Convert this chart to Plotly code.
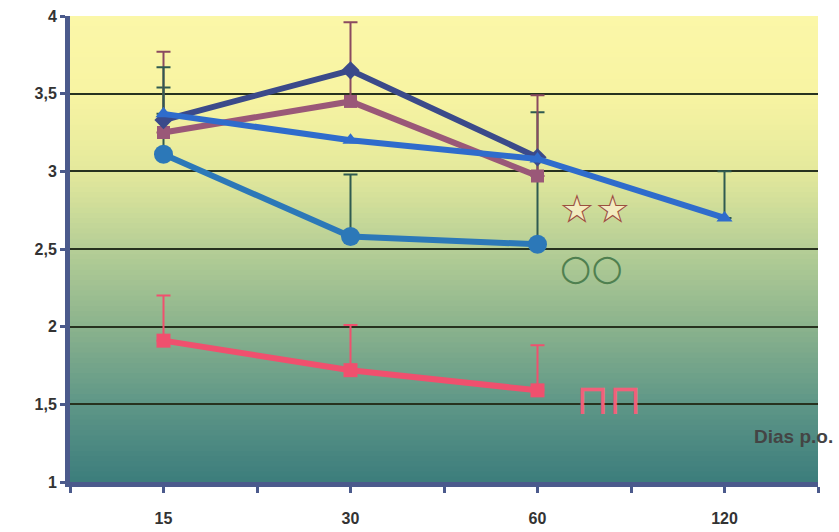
import plotly.graph_objects as go

# ---- data ----
categories = ["15", "30", "60", "120"]
x_pos = [0, 1, 2, 3]

navy_y = [3.33, 3.65, 3.09]
mauve_y = [3.25, 3.45, 2.97]
mauve_err = [0.52, 0.51, 0.52]
tri_y = [3.37, 3.20, 3.08, 2.70]
tri_err = [0.30, 0.0, 0.0, 0.30]
circ_y = [3.11, 2.58, 2.53]
circ_err = [0.43, 0.40, 0.85]
pink_y = [1.91, 1.72, 1.59]
pink_err = [0.29, 0.29, 0.29]

y_ticks = [1, 1.5, 2, 2.5, 3, 3.5, 4]
y_ticktext = ["1", "1,5", "2", "2,5", "3", "3,5", "4"]
x_tickvals = [-0.5, 0, 0.5, 1, 1.5, 2, 2.5, 3, 3.5]
x_ticktext = ["", "15", "", "30", "", "60", "", "120", ""]

fig = go.Figure()

# background gradient strips
stops = [(1.0, (0x3c, 0x7d, 0x7c)), (1.5, (0x5e, 0x96, 0x87)), (2.0, (0x8b, 0xb3, 0x8d)),
         (2.5, (0xb5, 0xce, 0x96)), (3.0, (0xe4, 0xe9, 0x9c)), (3.5, (0xf8, 0xf4, 0xa2)),
         (4.0, (0xfb, 0xf7, 0xa8))]

def col_at(v):
    for (a, ca), (b, cb) in zip(stops[:-1], stops[1:]):
        if a <= v <= b:
            t = (v - a) / (b - a)
            return "rgb(%d,%d,%d)" % tuple(int(round(ca[i] + (cb[i] - ca[i]) * t)) for i in range(3))
    return "rgb(251,247,168)"

n = 90
shapes = []
for i in range(n):
    y0 = 1 + 3 * i / n
    y1 = min(4.0, 1 + 3 * (i + 1) / n + 0.02)
    shapes.append(dict(type="rect", xref="paper", yref="y", x0=0, x1=1, y0=y0, y1=y1,
                       fillcolor=col_at(1 + 3 * (i + 0.5) / n), line=dict(width=0), layer="below"))

err_dark = "#2f5a50"

fig.add_trace(go.Scatter(x=x_pos[:3], y=circ_y, mode="lines+markers",
                         line=dict(color="#2c78b8", width=6),
                         marker=dict(symbol="circle", size=19, color="#2c78b8"),
                         error_y=dict(type="data", array=circ_err, arrayminus=[0, 0, 0], symmetric=False,
                                      color=err_dark, thickness=2, width=7)))
fig.add_trace(go.Scatter(x=x_pos[:3], y=mauve_y, mode="lines+markers",
                         line=dict(color="#9a5878", width=6),
                         marker=dict(symbol="square", size=13, color="#9a5878"),
                         error_y=dict(type="data", array=mauve_err, arrayminus=[0, 0, 0], symmetric=False,
                                      color="#8a4a60", thickness=2, width=7)))
fig.add_trace(go.Scatter(x=x_pos[:3], y=navy_y, mode="lines+markers",
                         line=dict(color="#3b4a8a", width=6),
                         marker=dict(symbol="diamond", size=14, color="#3b4a8a")))
fig.add_trace(go.Scatter(x=x_pos, y=tri_y, mode="lines+markers",
                         line=dict(color="#2f6ccc", width=6),
                         marker=dict(symbol="triangle-up", size=14, color="#2f6ccc"),
                         error_y=dict(type="data", array=tri_err, arrayminus=[0, 0, 0, 0], symmetric=False,
                                      color=err_dark, thickness=2, width=7)))
fig.add_trace(go.Scatter(x=x_pos[:3], y=pink_y, mode="lines+markers",
                         line=dict(color="#f0506e", width=6),
                         marker=dict(symbol="square", size=14, color="#f0506e"),
                         error_y=dict(type="data", array=pink_err, arrayminus=[0, 0, 0], symmetric=False,
                                      color="#f0506e", thickness=2, width=7)))

annotations = [
    dict(x=2.31, y=2.76, xref="x", yref="y", text="★★", showarrow=False,
         font=dict(size=40, color="#f3ecc0", family="DejaVu Sans")),
    dict(x=2.31, y=2.76, xref="x", yref="y", text="☆☆", showarrow=False,
         font=dict(size=40, color="#9a5040", family="DejaVu Sans")),
    dict(x=2.29, y=2.38, xref="x", yref="y", text="○○", showarrow=False,
         font=dict(size=36, color="#4f8050", family="DejaVu Sans")),
    dict(x=2.38, y=1.53, xref="x", yref="y", text="⊓⊓", showarrow=False,
         font=dict(size=42, color="#f0607a", family="DejaVu Sans")),
    dict(x=1.023, y=1.29, xref="paper", yref="y", xanchor="right", text="<b>Dias p.o.</b>",
         showarrow=False, font=dict(size=19, color="#444444", family="Liberation Sans")),
]

fig.update_layout(
    width=839, height=532,
    margin=dict(l=70, r=21, t=16, b=50, autoexpand=False),
    paper_bgcolor="white", plot_bgcolor="#3e8080",
    showlegend=False,
    shapes=shapes, annotations=annotations,
    xaxis=dict(range=[-0.5, 3.5], tickmode="array", tickvals=x_tickvals, ticktext=x_ticktext,
               showgrid=False, zeroline=False, showline=True, linecolor="#4b5a8c", linewidth=5,
               ticks="outside", ticklen=6, tickwidth=3, tickcolor="#4b5a8c",
               ticklabelstandoff=12, automargin=False,
               tickfont=dict(size=16, color="#333333", family="Liberation Sans", weight="bold")),
    yaxis=dict(range=[1, 4], tickmode="array", tickvals=y_ticks, ticktext=y_ticktext,
               showgrid=True, gridcolor="#27321f", gridwidth=2, zeroline=False,
               showline=True, linecolor="#4b5a8c", linewidth=5, automargin=False,
               ticks="outside", ticklen=5, tickwidth=3, tickcolor="#4b5a8c",
               tickfont=dict(size=16, color="#333333", family="Liberation Sans", weight="bold")),
)

fig.write_html("out.html", config={"displayModeBar": False},
               post_script="document.body.style.margin='0';document.body.style.overflow='hidden';")
